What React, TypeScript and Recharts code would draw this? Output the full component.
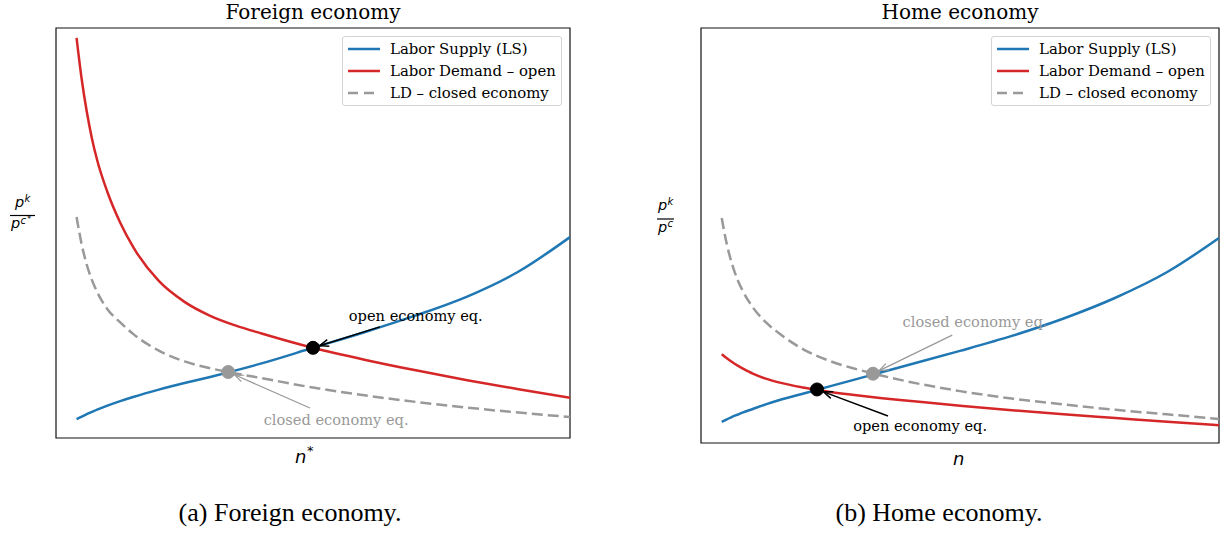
import React from "react";
import { LineChart, Line, XAxis, YAxis, ReferenceArea, ReferenceDot, ReferenceLine } from "recharts";

// employment grid shared by both panels (n* abroad, n at home)
const nGrid = [0.4, 0.5, 0.6, 0.7, 0.8, 1, 1.25, 1.5, 2, 2.5, 3, 3.5, 4, 5, 6, 7, 8, 9, 10];

// Foreign economy: relative price p^k / p^c* along each schedule
const foreignLS = [0.46, 0.52, 0.58, 0.635, 0.69, 0.79, 0.9, 1.0, 1.18, 1.34, 1.49, 1.65, 1.82, 2.2, 2.58, 2.99, 3.45, 4.06, 4.9];
const foreignLD = [9.76, 8.75, 7.95, 7.3, 6.78, 6.0, 5.25, 4.66, 3.83, 3.32, 2.98, 2.74, 2.55, 2.2, 1.91, 1.65, 1.41, 1.19, 0.98];
const foreignLDClosed = [5.39, 4.72, 4.22, 3.85, 3.56, 3.14, 2.82, 2.54, 2.13, 1.87, 1.7, 1.575, 1.46, 1.23, 1.04, 0.88, 0.74, 0.62, 0.51];

// Home economy: relative price p^k / p^c
const homeLS = [0.51, 0.57, 0.63, 0.68, 0.73, 0.82, 0.93, 1.03, 1.2, 1.37, 1.54, 1.71, 1.88, 2.22, 2.58, 3.0, 3.5, 4.12, 4.94];
const homeLD = [2.14, 2.04, 1.95, 1.87, 1.8, 1.67, 1.55, 1.46, 1.33, 1.23, 1.15, 1.08, 1.02, 0.9, 0.79, 0.69, 0.6, 0.51, 0.43];
const homeLDClosed = [5.42, 4.78, 4.31, 3.95, 3.68, 3.27, 2.91, 2.65, 2.24, 1.97, 1.78, 1.62, 1.48, 1.25, 1.07, 0.93, 0.8, 0.69, 0.58];

// equilibria [n, price]
const foreignOpenEq = [5, 2.2];
const foreignClosedEq = [3.35, 1.61];
const homeOpenEq = [2.24, 1.29];
const homeClosedEq = [3.32, 1.67];

const BLUE = "#1f77b4";
const RED = "#d62728";
const GRAY = "#999999";
const SERIF = "'DejaVu Serif', serif";
const MATH = "'DejaVu Sans', sans-serif";

const series = [
  { key: "ls", name: "Labor Supply (LS)", color: BLUE, dash: undefined },
  { key: "ld", name: "Labor Demand \u2013 open", color: RED, dash: undefined },
  { key: "ldc", name: "LD \u2013 closed economy", color: GRAY, dash: "11 5" },
];

function Arrow(props: any) {
  const { x1, y1, x2, y2, stroke, strokeWidth } = props;
  const dx = x2 - x1;
  const dy = y2 - y1;
  const len = Math.hypot(dx, dy) || 1;
  const ux = dx / len;
  const uy = dy / len;
  // stop at the rim of the equilibrium marker
  const tx = x2 - ux * 7;
  const ty = y2 - uy * 7;
  const bx = tx - ux * 9;
  const by = ty - uy * 9;
  const px = -uy * 3.5;
  const py = ux * 3.5;
  return (
    <g>
      <line x1={x1} y1={y1} x2={tx} y2={ty} stroke={stroke} strokeWidth={strokeWidth} />
      <polyline
        points={`${bx + px},${by + py} ${tx},${ty} ${bx - px},${by - py}`}
        fill="none"
        stroke={stroke}
        strokeWidth={strokeWidth}
      />
    </g>
  );
}

function Note({ text, at, from, eq, color, dotColor }: any) {
  return [
    <ReferenceLine
      key="arrow"
      segment={[{ x: from[0], y: from[1] }, { x: eq[0], y: eq[1] }]}
      stroke={color}
      strokeWidth={color === GRAY ? 1.2 : 1.5}
      shape={(p: any) => <Arrow {...p} />}
    />,
    <ReferenceDot key="dot" x={eq[0]} y={eq[1]} r={6.5} fill={dotColor} stroke={dotColor} />,
    <ReferenceDot
      key="text"
      x={at[0]}
      y={at[1]}
      r={1}
      shape={(p: any) => (
        <text x={p.cx} y={p.cy} textAnchor="middle" dominantBaseline="central" fill={color} fontSize={14.6} fontFamily={SERIF}>
          {text}
        </text>
      )}
    />,
  ];
}

function Panel({ left, width, margin, ls, ld, ldc, openEq, closedEq, openNote, closedNote }: any) {
  const data = nGrid.map((n, i) => ({ n, ls: ls[i], ld: ld[i], ldc: ldc[i] }));
  return (
    <div style={{ position: "absolute", left, top: 0 }}>
      <LineChart width={width} height={470} data={data} margin={margin}>
        <XAxis hide type="number" dataKey="n" domain={[0, 10]} allowDataOverflow />
        <YAxis hide type="number" domain={[0, 10]} allowDataOverflow />
        <ReferenceArea x1={0} x2={10} y1={0} y2={10} fill="none" fillOpacity={0} stroke="#111" strokeWidth={1.2} />
        {series.map((s) => (
          <Line
            key={s.key}
            type="monotone"
            dataKey={s.key}
            name={s.name}
            stroke={s.color}
            strokeWidth={2.5}
            strokeDasharray={s.dash}
            dot={false}
            activeDot={false}
            isAnimationActive={false}
          />
        ))}
        {Note({ ...closedNote, eq: closedEq, color: GRAY, dotColor: GRAY })}
        {Note({ ...openNote, eq: openEq, color: "#000", dotColor: "#000" })}
      </LineChart>
    </div>
  );
}

function LegendBox({ left }: { left: number }) {
  return (
    <div
      style={{
        position: "absolute",
        left,
        top: 36,
        width: 220,
        height: 70,
        boxSizing: "border-box",
        border: "1px solid #d3d3d3",
        borderRadius: 3,
        background: "rgba(255,255,255,0.85)",
      }}
    >
      {series.map((s, i) => (
        <div key={s.key} style={{ position: "absolute", left: 0, top: 1 + i * 22, height: 22, display: "flex", alignItems: "center" }}>
          <svg width={44} height={10} style={{ display: "block" }}>
            <line x1={5} y1={5} x2={37} y2={5} stroke={s.color} strokeWidth={2.5} strokeDasharray={s.dash ? "10 6" : undefined} />
          </svg>
          <span style={{ marginLeft: 3, fontFamily: SERIF, fontSize: 14.9, color: "#000", whiteSpace: "nowrap" }}>{s.name}</span>
        </div>
      ))}
    </div>
  );
}

function Frac({ x, y, star }: { x: number; y: number; star: boolean }) {
  // p^k over p^c (or p^{c*}) in mathtext style
  const barW = star ? 25 : 17;
  const nx = star ? x + 4 : x;
  return (
    <g fontFamily={MATH} fontStyle="italic" fill="#000">
      <text x={nx + 1} y={y - 9} fontSize={14.5}>p</text>
      <text x={nx + 10.5} y={y - 14} fontSize={10}>k</text>
      <line x1={x} y1={y} x2={x + barW} y2={y} stroke="#000" strokeWidth={1.2} />
      <text x={x + 1} y={y + 12.5} fontSize={14.5}>p</text>
      <text x={x + 10.5} y={y + 8} fontSize={10}>c</text>
      {star ? <text x={x + 17} y={y + 6} fontSize={8.5}>*</text> : null}
    </g>
  );
}

export default function App() {
  return (
    <div style={{ position: "absolute", left: 0, top: 0, width: 1225, height: 533, background: "#fff" }}>
      <Panel
        left={0}
        width={600}
        margin={{ top: 28, left: 56, right: 30, bottom: 32 }}
        ls={foreignLS}
        ld={foreignLD}
        ldc={foreignLDClosed}
        openEq={foreignOpenEq}
        closedEq={foreignClosedEq}
        openNote={{ text: "open economy eq.", at: [7.0, 3.0], from: [6.3, 2.71] }}
        closedNote={{ text: "closed economy eq.", at: [5.45, 0.45], from: [4.94, 0.73] }}
      />
      <Panel
        left={645}
        width={580}
        margin={{ top: 28, left: 56, right: 6, bottom: 27 }}
        ls={homeLS}
        ld={homeLD}
        ldc={homeLDClosed}
        openEq={homeOpenEq}
        closedEq={homeClosedEq}
        openNote={{ text: "open economy eq.", at: [4.23, 0.41], from: [3.61, 0.65] }}
        closedNote={{ text: "closed economy eq.", at: [5.29, 2.92], from: [4.85, 2.6] }}
      />
      <LegendBox left={342} />
      <LegendBox left={991} />
      <svg width={1225} height={533} style={{ position: "absolute", left: 0, top: 0, pointerEvents: "none" }}>
        <text x={313} y={19} textAnchor="middle" fontFamily={SERIF} fontSize={20}>Foreign economy</text>
        <text x={960} y={19} textAnchor="middle" fontFamily={SERIF} fontSize={20}>Home economy</text>
        <Frac x={10} y={215.5} star />
        <Frac x={657} y={219} star={false} />
        <g fontFamily={MATH} fontStyle="italic">
          <text x={295} y={463} fontSize={18}>n</text>
          <text x={307} y={455} fontSize={13}>*</text>
          <text x={953} y={465} fontSize={18}>n</text>
        </g>
        <text x={290} y={521} textAnchor="middle" fontFamily="'Liberation Serif', serif" fontSize={26}>(a) Foreign economy.</text>
        <text x={939} y={521} textAnchor="middle" fontFamily="'Liberation Serif', serif" fontSize={26}>(b) Home economy.</text>
      </svg>
    </div>
  );
}
